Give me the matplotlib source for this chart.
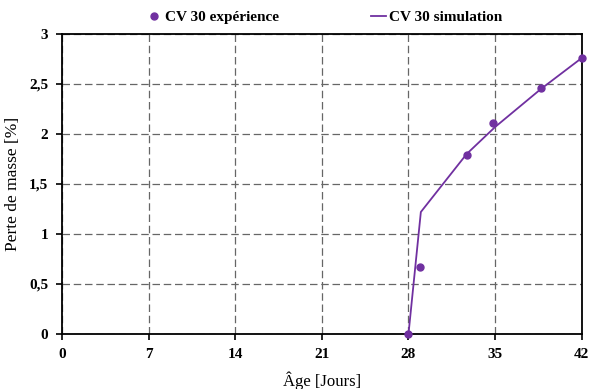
import matplotlib
matplotlib.use("Agg")
import matplotlib.pyplot as plt
from matplotlib.lines import Line2D

plt.rcParams['font.family'] = 'Liberation Serif'

# mass loss of CV 30, measured vs simulated
age_exp = [28, 28.9, 32.7, 34.8, 38.7, 42]
loss_exp = [0.0, 0.67, 1.79, 2.11, 2.46, 2.76]
age_sim = [28, 29, 32.7, 35, 38.7, 42]
loss_sim = [0.0, 1.22, 1.80, 2.07, 2.45, 2.76]

x_ticks = [0, 7, 14, 21, 28, 35, 42]
y_ticks = [0, 0.5, 1, 1.5, 2, 2.5, 3]
y_labels = ['0', '0,5', '1', '1,5', '2', '2,5', '3']

purple = '#7030A0'

fig = plt.figure(figsize=(5.9, 3.89), dpi=100)
ax = fig.add_axes([0.105, 0.1414, 0.881, 0.7712])

ax.plot(age_sim, loss_sim, '-', color=purple, lw=1.3, zorder=3)
ax.plot(age_exp, loss_exp, 'o', color=purple, ms=5, zorder=4, clip_on=False)

ax.set_xlim(0, 42)
ax.set_ylim(0, 3)
ax.set_xticks(x_ticks)
ax.set_yticks(y_ticks)
ax.set_yticklabels(y_labels)
ax.tick_params(labelsize=11, direction='out', length=4, width=1.2, pad=6)
for lbl in ax.get_xticklabels() + ax.get_yticklabels():
    lbl.set_fontweight('bold')
ax.grid(True, ls=(0, (6, 3)), color='#666666', lw=0.9)
for s in ax.spines.values():
    s.set_linewidth(1.3)
    s.set_color('black')
ax.set_axisbelow(True)

ax.set_xlabel('Âge [Jours]', fontsize=12)
ax.set_ylabel('Perte de masse [%]', fontsize=12.5)
ax.xaxis.set_label_coords(0.5, -0.125)
ax.yaxis.set_label_coords(-0.079, 0.5)

handles = [Line2D([], [], marker='o', ls='none', color=purple, ms=5),
           Line2D([], [], ls='-', color=purple, lw=1.3)]
fig.legend(handles, ['CV 30 expérience', 'CV 30 simulation'],
           loc='center', bbox_to_anchor=(0.55, 0.955), ncol=2, frameon=False,
           prop={'size': 11, 'weight': 'bold'},
           handlelength=1.0, handletextpad=0.2, columnspacing=6)

fig.savefig('out.png', dpi=100)
